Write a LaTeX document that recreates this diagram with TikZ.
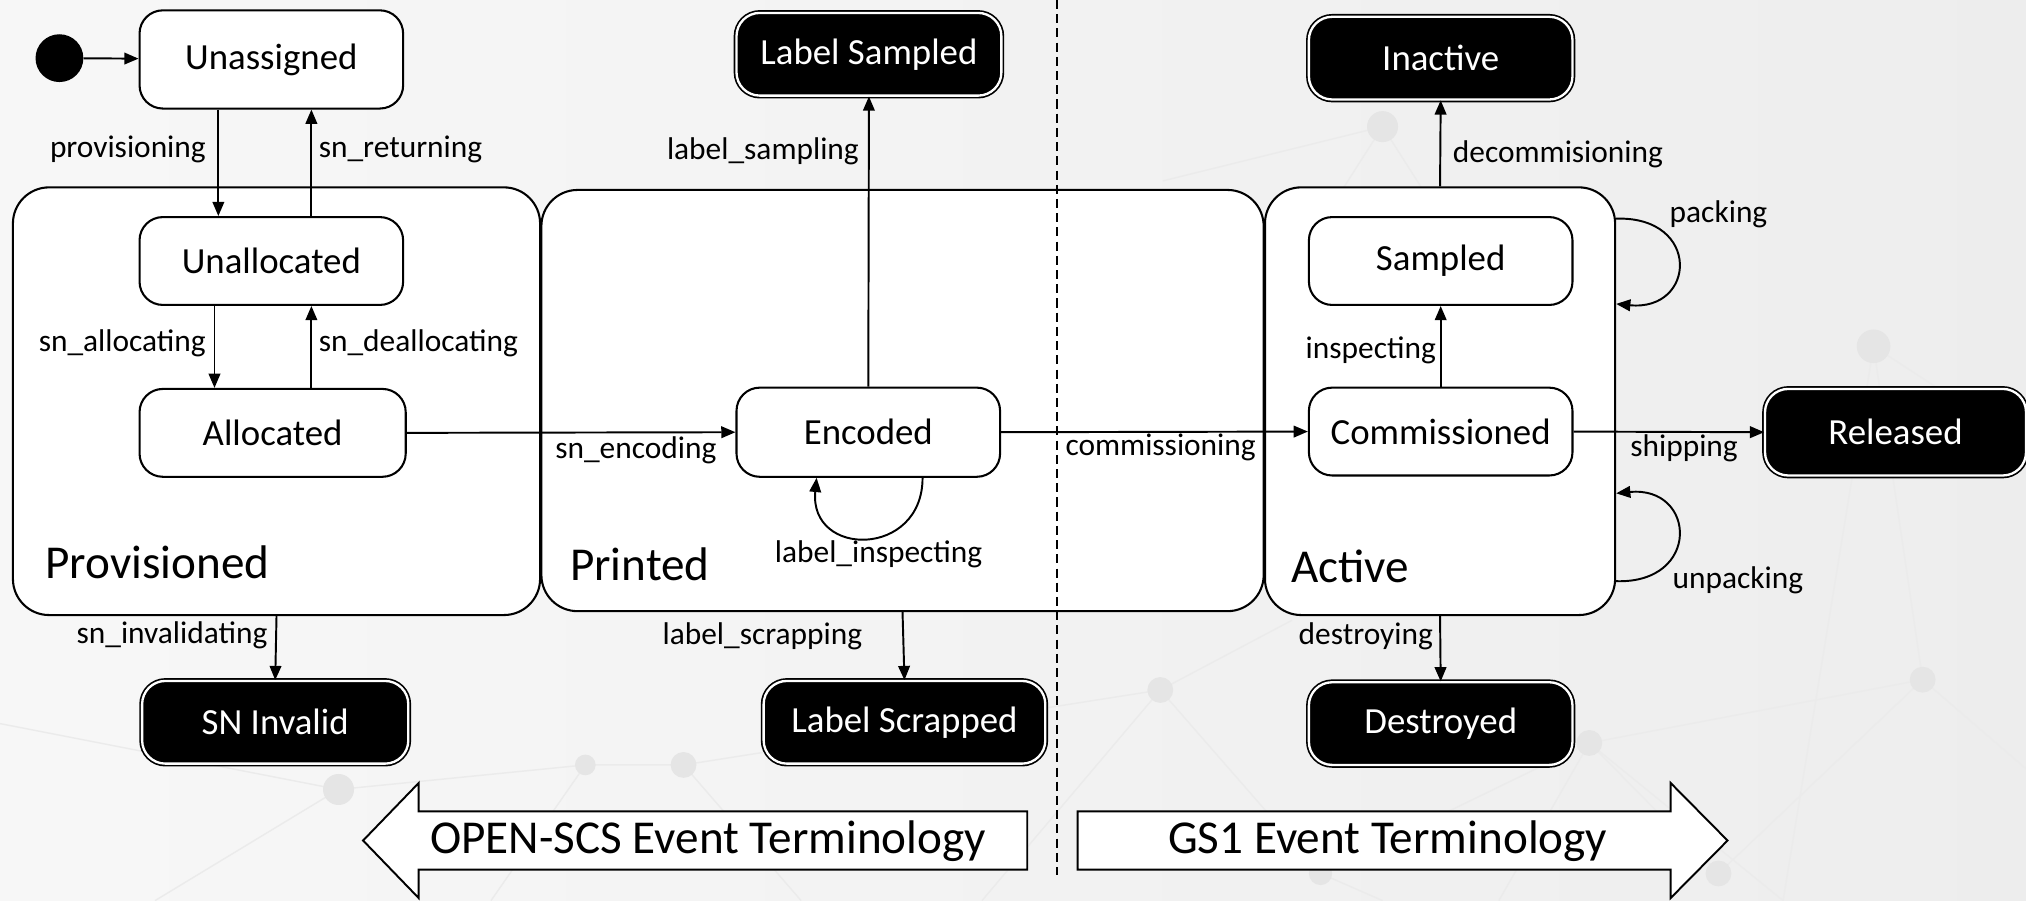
\documentclass[tikz,border=0pt]{standalone}
\usepackage{fontspec}
\setmainfont{Carlito}
\usetikzlibrary{arrows.meta,positioning}
\tikzset{
  st/.style={draw, line width=1.6pt, rounded corners=18pt, fill=white,
    minimum width=204pt, minimum height=68pt, inner sep=0pt,
    font=\fontsize{28.5}{30}\selectfont},
  fin/.style={draw=black, double=white, double distance=1.8pt, line width=1.3pt,
    rounded corners=18pt, fill=black, text=white,
    minimum width=204pt, minimum height=64pt, inner sep=0pt,
    font=\fontsize{28.5}{30}\selectfont},
  comp/.style={draw, line width=1.6pt, rounded corners=28pt, fill=white, inner sep=0pt},
  bigtxt/.style={font=\fontsize{36.5}{40}\selectfont, inner sep=0pt},
  lbl/.style={font=\fontsize{24.3}{26}\selectfont, inner sep=1pt},
  tr/.style={line width=1.5pt, -{Triangle[length=11pt,width=9pt]}},
  bgline/.style={line width=1.1pt, draw=black!8},
  bgdot/.style={fill=black!10},
}
\begin{document}
\begin{tikzpicture}[x=1pt,y=-1pt]
\useasboundingbox (0,0) rectangle (1568,697);
% background
\shade[left color=black!3, right color=black!7] (0,0) rectangle (1568,697);
\draw[bgline] (1450,268) -- (1488,526) -- (1568,595);
\draw[bgline] (1450,268) -- (1568,345);
\draw[bgline] (1450,268) -- (1380,697);
\draw[bgline] (1488,526) -- (1330,676) -- (1230,575) -- (1488,526);
\draw[bgline] (1230,575) -- (1160,697);
\draw[bgline] (1230,575) -- (1380,697);
\draw[bgline] (898,534) -- (1022,676) -- (1230,575);
\draw[bgline] (898,534) -- (760,697);
\draw[bgline] (898,534) -- (1000,480);
\draw[bgline] (262,611) -- (453,592) -- (529,592) -- (898,534);
\draw[bgline] (262,611) -- (120,697);
\draw[bgline] (262,611) -- (0,560);
\draw[bgline] (453,592) -- (380,697);
\draw[bgline] (529,592) -- (620,697);
\draw[bgline] (1070,98) -- (900,140);
\draw[bgline] (1070,98) -- (1040,145);
\draw[bgline] (1070,98) -- (1100,145);
\draw[bgline] (1022,676) -- (1070,697);
\fill[bgdot] (1070,98) circle (12);
\fill[bgdot] (1450,268) circle (13);
\fill[bgdot] (1488,526) circle (10);
\fill[bgdot] (1230,575) circle (10);
\fill[bgdot] (898,534) circle (10);
\fill[bgdot] (1330,676) circle (10);
\fill[bgdot] (1022,676) circle (9);
\fill[bgdot] (262,611) circle (12);
\fill[bgdot] (529,592) circle (10);
\fill[bgdot] (453,592) circle (8);
% composite states
\node[comp, minimum width=408pt, minimum height=331pt] (prov) at (214,310.5) {};
\node[comp, minimum width=559pt, minimum height=326pt] (print) at (698.5,310) {};
\node[comp, minimum width=271pt, minimum height=331pt] (act) at (1114.5,310.5) {};
\node[bigtxt, anchor=base west] (tprov) at (35,448) {Provisioned};
\node[bigtxt, anchor=base west] (tprint) at (441,449) {Printed};
\node[bigtxt, anchor=base west] (tact) at (999,451) {Active};
% dashed divider
\coordinate (dtop) at (818,0);
\coordinate (dbot) at (818,677);
\draw[line width=1.5pt, dash pattern=on 7pt off 4pt] (dtop) -- (dbot);
% states
\node[circle, fill=black, minimum size=37pt, inner sep=0pt] (init) at (46,45) {};
\node[st, minimum height=76pt] (una) at (210,46) {Unassigned};
\node[st] (unal) at (210,202) {Unallocated};
\node[st, minimum width=206pt] (alloc) at (211,335) {Allocated};
\node[st, minimum height=69pt] (enc) at (672,334.5) {Encoded};
\node[st] (samp) at (1115,202) {Sampled};
\node[st] (comm) at (1115,334) {Commissioned};
% final states
\node[fin, minimum width=205pt] (lsamp) at (672.5,42) {Label Sampled};
\node[fin] (inact) at (1115,45) {Inactive};
\node[fin, minimum width=202pt, minimum height=67pt] (rel) at (1467,334.5) {Released};
\node[fin, minimum width=206pt] (sninv) at (213,559) {SN Invalid};
\node[fin, minimum width=218pt] (lscr) at (700,559) {Label Scrapped};
\node[fin] (destr) at (1115,560) {Destroyed};
% transitions
\draw[tr] (init) -- (una);
\draw[tr] ([xshift=-41pt]una.south) -- node[lbl, pos=.37, left=8pt] (lprovi) {provisioning} ([xshift=-41pt]unal.north);
\draw[tr] ([xshift=31pt]unal.north) -- node[lbl, pos=.63, right=4pt] (lret) {sn\_returning} ([xshift=31pt]una.south);
\draw[tr] ([xshift=-44pt]unal.south) -- node[lbl, pos=.45, left=5pt] (lalloc) {sn\_allocating} ([xshift=-45pt]alloc.north);
\draw[tr] ([xshift=30pt]alloc.north) -- node[lbl, pos=.55, right=4pt] (ldealloc) {sn\_deallocating} ([xshift=31pt]unal.south);
\draw[tr] (alloc.east) -- node[lbl, pos=1, anchor=north east, xshift=-13pt, yshift=-2pt] (lenc) {sn\_encoding} (enc.west);
\draw[tr] (enc.north) -- node[lbl, pos=.81, left=6pt] (lsampl) {label\_sampling} (lsamp.south);
\draw[tr] ([xshift=42pt]enc.south) .. controls +(0,62) and +(-6,62) .. ([xshift=-40pt]enc.south);
\node[lbl] (linsp) at (680,429) {label\_inspecting};
\draw[tr] (enc.east) -- node[lbl, pos=.52, below=0pt] (lcomm) {commissioning} (comm.west);
\draw[tr] (comm.north) -- node[lbl, pos=.45, left=2pt] (linspc) {inspecting} (samp.south);
\draw[tr] (act.north) -- node[lbl, pos=.37, right=8pt] (ldecom) {decommisioning} (inact.south);
\draw[tr] ([yshift=-25pt]act.north east) .. controls +(66,-2) and +(62,6) .. ([yshift=-91pt]act.north east);
\node[lbl] (lpack) at (1330,166) {packing};
\draw[tr] (comm.east) -- node[lbl, pos=.58, below=0pt] (lship) {shipping} (rel.west);
\draw[tr] ([yshift=27pt]act.south east) .. controls +(66,2) and +(62,-6) .. ([yshift=95pt]act.south east);
\node[lbl] (lunpack) at (1345,449) {unpacking};
\draw[tr] (act.south) -- node[lbl, pos=.31, left=4pt] (ldestr) {destroying} (destr.north);
\draw[tr] (prov.south) -- node[lbl, pos=.3, left=5pt] (linval) {sn\_invalidating} (sninv.north);
\draw[tr] (print.south) -- node[lbl, pos=.36, left=30pt] (lscrap) {label\_scrapping} (lscr.north);
% terminology arrows
\draw[line width=1.5pt, fill=white] (795,628) -- (324,628) -- (324,606) -- (281,650.5) -- (324,695) -- (324,673) -- (795,673) -- cycle;
\node[bigtxt] (topen) at (548,651) {OPEN-SCS Event Terminology};
\draw[line width=1.5pt, fill=white] (834,628) -- (1293,628) -- (1293,606) -- (1337,650.5) -- (1293,695) -- (1293,673) -- (834,673) -- cycle;
\node[bigtxt] (tgs1) at (1074,651) {GS1 Event Terminology};
\end{tikzpicture}
\end{document}
